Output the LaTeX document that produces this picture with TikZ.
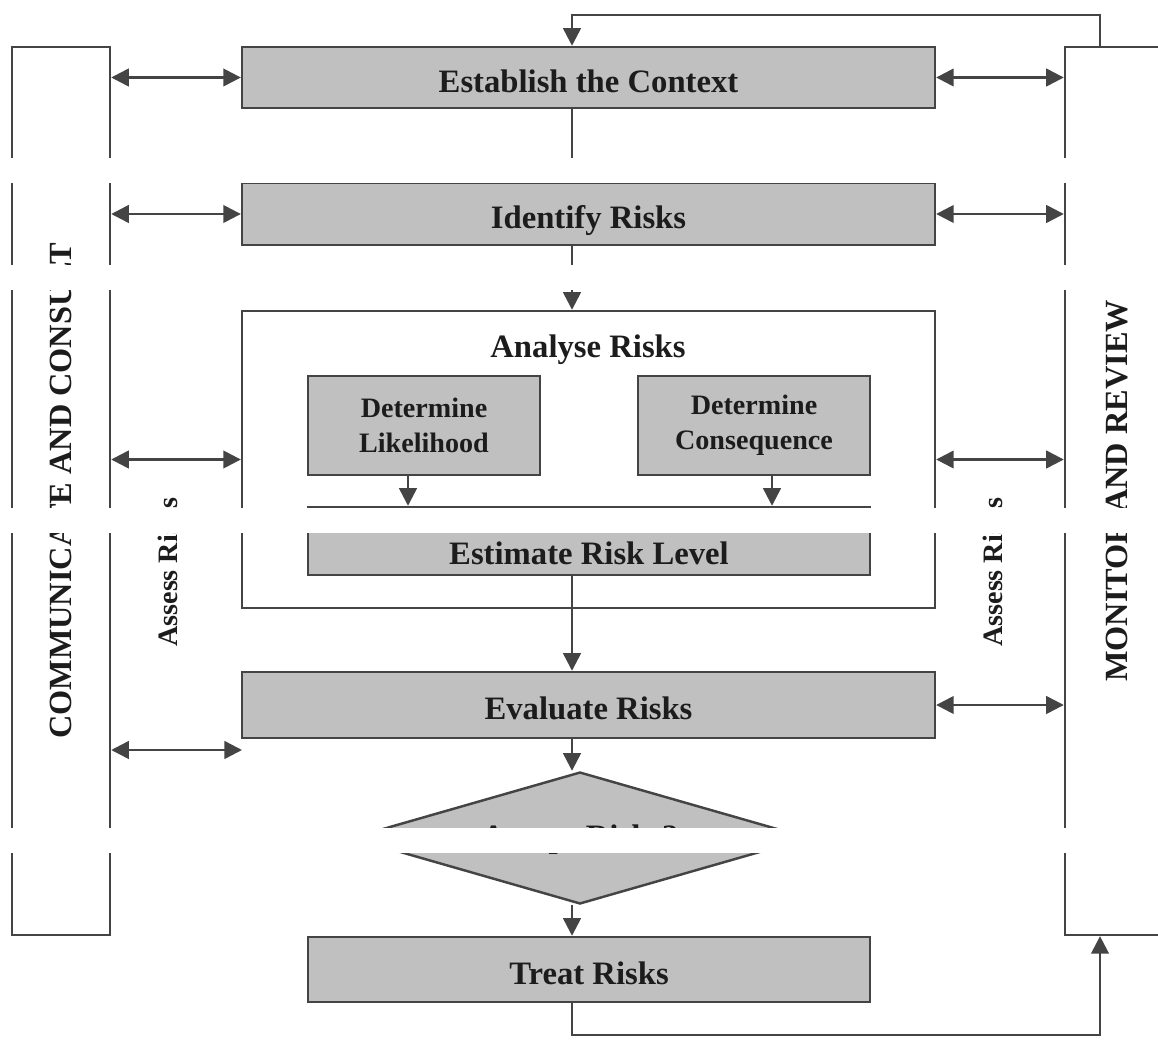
\documentclass[tikz,border=0pt]{standalone}
\usepackage{fontspec}
\setmainfont{Liberation Serif}
\usepackage{xcolor}
\usepackage{tikz}
\usetikzlibrary{arrows.meta,shapes.geometric}
\definecolor{boxgray}{HTML}{C0C0C0}
\definecolor{edge}{HTML}{444444}
\definecolor{ink}{HTML}{1C1C1C}

\begin{document}
\begin{tikzpicture}[x=0.02cm,y=-0.02cm,line width=1.4pt,
    shade box/.style={draw=edge,fill=boxgray,inner sep=0pt,text=ink,
      font=\bfseries\fontsize{18.6}{22}\selectfont},
    box/.style={shade box,text height=17pt,text depth=0pt},
    sub/.style={shade box,align=center,font=\bfseries\fontsize{16}{20}\selectfont},
    side/.style={draw=edge,fill=white,inner sep=0pt},
    sidetext/.style={rotate=90,text=ink,font=\bfseries\fontsize{18.4}{22}\selectfont},
    assess/.style={rotate=90,text=ink,font=\bfseries\fontsize{16}{20}\selectfont},
    arr/.style={draw=edge,-{Triangle[length=10pt,width=10pt]}},
    dbl/.style={draw=edge,{Triangle[length=10pt,width=10pt]}-{Triangle[length=10pt,width=10pt]}}]
  \useasboundingbox (0,0) rectangle (1158,1043);

  % side panels
  \node[side,minimum width=1.96cm,minimum height=17.76cm] (comm) at (61,491) {};
  \node[sidetext] (commt) at (comm) {COMMUNICATE AND CONSULT};
  \node[side,minimum width=2.08cm,minimum height=17.76cm] (mon) at (1117,491) {};
  \node[sidetext] (mont) at (mon) {MONITOR AND REVIEW};

  % main column
  \node[box,minimum width=13.86cm,minimum height=1.22cm] (ctx) at (588.5,77.5) {Establish the Context};
  \node[box,minimum width=13.86cm,minimum height=1.24cm] (idf) at (588.5,214) {Identify Risks};
  \node[side,minimum width=13.86cm,minimum height=5.94cm] (ana) at (588.5,459.5) {};
  \node[text=ink,font=\bfseries\fontsize{18.6}{22}\selectfont] (anat) at (588,350) {Analyse Risks};
  \node[sub,minimum width=4.64cm,minimum height=1.98cm] (lik) at (424,425.5) {Determine\\Likelihood};
  \node[sub,minimum width=4.64cm,minimum height=1.98cm] (con) at (754,425.5) {Determine\\Consequence};
  \node[box,text height=27pt,minimum width=11.24cm,minimum height=1.36cm] (est) at (589,541) {Estimate Risk Level};
  \node[shade box,diamond,aspect=3.47,text height=11pt,text depth=0pt,
    minimum width=9.16cm,minimum height=2.64cm] (acc) at (580,838) {Accept Risks?};
  \node[box,minimum width=13.86cm,minimum height=1.32cm] (eva) at (588.5,705) {Evaluate Risks};
  \node[box,minimum width=11.24cm,minimum height=1.3cm] (trt) at (589,969.5) {Treat Risks};

  \node[assess] (asl) at (168,572) {Assess Risks};
  \node[assess] (asr) at (993,572) {Assess Risks};

  \coordinate (spine) at (572,0);
  \coordinate (ll) at (408,0);
  \coordinate (cc) at (772,0);
  \coordinate (top) at (1100,15);
  \coordinate (bot) at (1100,1035);
  \coordinate (gap) at (242,750);

  % flow
  \draw[arr] (mon.north -| top) -- (top) -| (ctx.north -| spine);
  \draw[arr] (ctx.south -| spine) -- (idf.north -| spine);
  \draw[arr] (idf.south -| spine) -- (ana.north -| spine);
  \draw[arr] (lik.south -| ll) -- (est.north -| ll);
  \draw[arr] (con.south -| cc) -- (est.north -| cc);
  \draw[arr] (est.south -| spine) -- (eva.north -| spine);
  \draw[arr] (eva.south -| spine) -- (acc.north -| spine);
  \draw[arr] (acc.south -| spine) -- (trt.north -| spine);
  \draw[arr] (trt.south -| spine) |- (bot) -- (mon.south -| bot);

  % links to the side panels
  \foreach \n in {ctx,idf,ana}{
    \draw[dbl] (comm.east |- \n) -- (\n.west);
    \draw[dbl] (\n.east) -- (mon.west |- \n);
  }
  \draw[dbl] (comm.east |- gap) -- (gap);
  \draw[dbl] (eva.east) -- (mon.west |- eva);

  % white strips across the picture
  \foreach \a/\b in {158/183,265/290,508/533,828/853}
    \fill[white] (-5,\a) rectangle (1165,\b);
\end{tikzpicture}
\end{document}
